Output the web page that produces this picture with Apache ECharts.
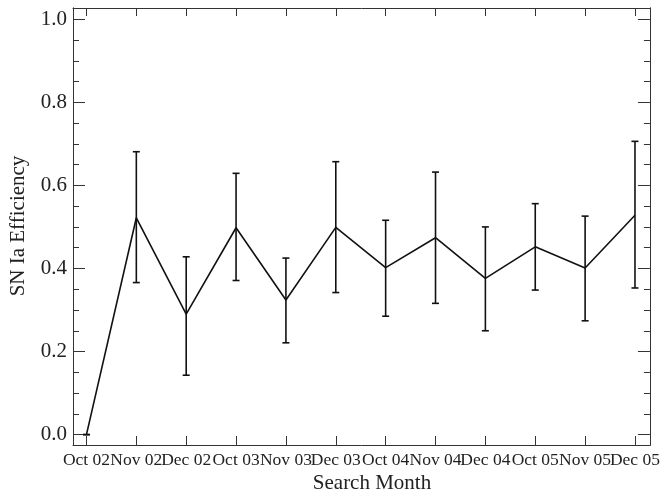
<!DOCTYPE html>
<html><head><meta charset="utf-8">
<script src="https://cdn.jsdelivr.net/npm/echarts@6/dist/echarts.min.js"></script>
<style>html,body{margin:0;padding:0;background:#fff}#c{width:663px;height:496px}</style>
</head><body><div id="c"></div>
<script>
const months = ['Oct 02','Nov 02','Dec 02','Oct 03','Nov 03','Dec 03','Oct 04','Nov 04','Dec 04','Oct 05','Nov 05','Dec 05'];
const monthIndex = [0,1,2,3,4,5,6,7,8,9,10,11];
const efficiency = [0.0,0.522,0.290,0.498,0.324,0.499,0.402,0.474,0.376,0.452,0.401,0.528];
const errLow  = [0.0,0.366,0.143,0.371,0.221,0.342,0.285,0.316,0.250,0.348,0.274,0.353];
const errHigh = [0.0,0.681,0.428,0.629,0.425,0.657,0.516,0.632,0.500,0.556,0.526,0.706];
const yMajorTicks = [0.0,0.2,0.4,0.6,0.8,1.0];
const yMinorTicks = [0.05,0.1,0.15,0.25,0.3,0.35,0.45,0.5,0.55,0.65,0.7,0.75,0.85,0.9,0.95];

const FONT = '"Liberation Serif","DejaVu Serif",serif';
const AX = '#333';
const chart = echarts.init(document.getElementById('c'), null, {renderer:'canvas'});

const evenIdx = monthIndex.filter(i => i % 2 === 0);
const oddIdx = monthIndex.filter(i => i % 2 === 1);

function xAx(pos, labelVals, tickLen, showLine){
  return {
    type:'value', position:pos, min:-0.27, max:11.3,
    axisLine:{show:showLine, onZero:false, lineStyle:{color:AX, width:1}},
    axisTick:{show:showLine, inside:true, length:tickLen, customValues:monthIndex, lineStyle:{color:AX, width:1}},
    axisLabel:{show:!!labelVals, customValues:labelVals || monthIndex, margin:6, color:'#222', fontFamily:FONT, fontSize:17.5,
      showMinLabel:true, showMaxLabel:true, hideOverlap:false,
      formatter:v=>months[Math.round(v)]},
    splitLine:{show:false}
  };
}
function yAx(pos, ticks, tickLen, showLabel){
  return {
    type:'value', position:pos, min:-0.025, max:1.027,
    axisLine:{show:true, onZero:false, lineStyle:{color:AX, width:1}},
    axisTick:{show:true, inside:true, length:tickLen, customValues:ticks, lineStyle:{color:AX, width:1}},
    axisLabel:{show:showLabel, customValues:ticks, margin:6, color:'#222', fontFamily:FONT, fontSize:21,
      showMinLabel:true, showMaxLabel:true,
      formatter:v=>v.toFixed(1)},
    splitLine:{show:false}
  };
}

chart.setOption({
  animation:false,
  backgroundColor:'#fff',
  grid:{left:73, right:11, top:8, bottom:51, containLabel:false},
  xAxis:[xAx('bottom', evenIdx, 9, true), xAx('top', null, 8, true), xAx('bottom', oddIdx, 9, false)],
  yAxis:[yAx('left', yMajorTicks, 12, true), yAx('left', yMinorTicks, 6, false),
         yAx('right', yMajorTicks, 12, false), yAx('right', yMinorTicks, 6, false)],
  graphic:[
    {type:'text', x:372, y:483, style:{text:'Search Month', fontFamily:FONT, fontSize:21, fill:'#222', textAlign:'center', textVerticalAlign:'middle'}},
    {type:'text', x:18, y:226, rotation:Math.PI/2, style:{text:'SN Ia Efficiency', fontFamily:FONT, fontSize:21, fill:'#222', textAlign:'center', textVerticalAlign:'middle'}}
  ],
  series:[
    {type:'line', xAxisIndex:0, yAxisIndex:0, symbol:'none', clip:false,
     data: monthIndex.map((i,k)=>[i, efficiency[k]]),
     lineStyle:{color:'#111', width:1.6}},
    {type:'custom', xAxisIndex:0, yAxisIndex:0, clip:false,
     data: monthIndex.map((i,k)=>[i, errLow[k], errHigh[k]]),
     renderItem:function(params, api){
       const x = api.value(0);
       const lo = api.coord([x, api.value(1)]);
       const hi = api.coord([x, api.value(2)]);
       const hw = 3.5;
       const st = {stroke:'#111', lineWidth:1.6};
       return {type:'group', children:[
         {type:'line', shape:{x1:lo[0], y1:lo[1], x2:hi[0], y2:hi[1]}, style:st},
         {type:'line', shape:{x1:lo[0]-hw, y1:lo[1], x2:lo[0]+hw, y2:lo[1]}, style:st},
         {type:'line', shape:{x1:hi[0]-hw, y1:hi[1], x2:hi[0]+hw, y2:hi[1]}, style:st}
       ]};
     }}
  ]
});
</script></body></html>
